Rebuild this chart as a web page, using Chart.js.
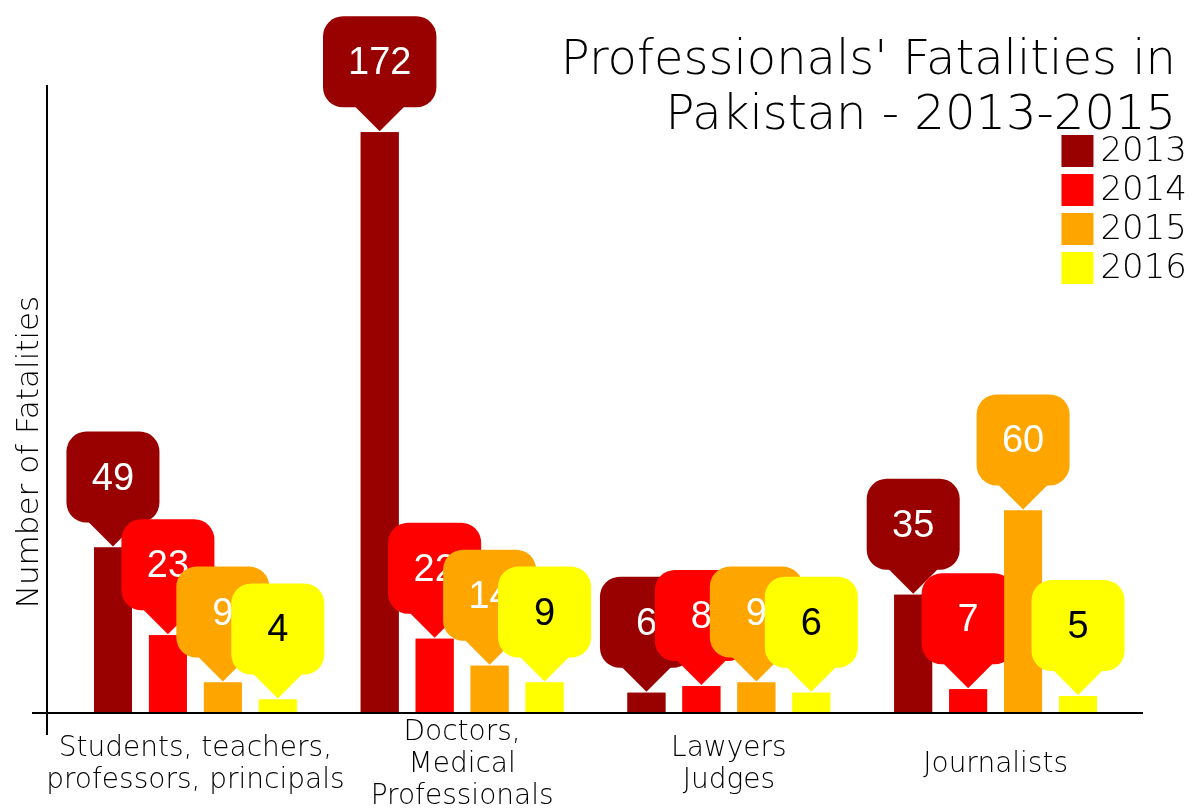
<!DOCTYPE html>
<html lang="en">
  <head>
    <meta charset="UTF-8" />
    <title>Professionals' Fatalities in Pakistan</title>
    <style>
      html, body { margin: 0; padding: 0; background: #fff; }
      .chartBox { width: 1195px; height: 809px; }
    </style>
  </head>
  <body>
    <div class="chartBox"><canvas id="myChart"></canvas></div>
    <script src="https://cdn.jsdelivr.net/npm/chart.js/dist/chart.umd.min.js"></script>
    <script>
      // data
      const categories = [
        ['Students, teachers,', 'professors, principals'],
        ['Doctors,', 'Medical', 'Professionals'],
        ['Lawyers', 'Judges'],
        ['Journalists']
      ];
      const years = ['2013', '2014', '2015', '2016'];
      const fatalities2013 = [49, 172, 6, 35];
      const fatalities2014 = [23, 22, 8, 7];
      const fatalities2015 = [9, 14, 9, 60];
      const fatalities2016 = [4, 9, 6, 5];
      const titleLines = ["Professionals' Fatalities in", 'Pakistan - 2013-2015'];
      const yTitle = 'Number of Fatalities';

      const colors = ['#990000', '#ff0000', '#ffa500', '#ffff00'];
      const textColors = ['#ffffff', '#ffffff', '#ffffff', '#000000'];
      const FONT = '"DejaVu Sans", sans-serif';
      const VALUE_FONT = '38px "Liberation Sans", Arial, sans-serif';

      const series = [fatalities2013, fatalities2014, fatalities2015, fatalities2016];

      // rounded box with a pointer, tip sits on the bar top
      function drawCallout(ctx, cx, tipY, text, fill, textColor) {
        ctx.font = VALUE_FONT;
        const w = Math.max(93, ctx.measureText(text).width + 50);
        const h = 91, r = 20, ph = 24;
        const bottom = tipY - ph;
        const top = bottom - h;
        ctx.fillStyle = fill;
        ctx.beginPath();
        ctx.roundRect(cx - w / 2, top, w, h, r);
        ctx.fill();
        ctx.beginPath();
        ctx.moveTo(cx - ph - 1, bottom - 1);
        ctx.lineTo(cx, tipY);
        ctx.lineTo(cx + ph + 1, bottom - 1);
        ctx.closePath();
        ctx.fill();
        ctx.fillStyle = textColor;
        ctx.textAlign = 'center';
        ctx.textBaseline = 'middle';
        ctx.fillText(text, cx, top + h / 2 + 2);
      }

      const calloutPlugin = {
        id: 'callouts',
        afterDatasetsDraw(chart) {
          const ctx = chart.ctx;
          ctx.save();
          // bar then its callout, one after another, so later ones overlap
          categories.forEach((c, i) => {
            chart.data.datasets.forEach((ds, d) => {
              const bar = chart.getDatasetMeta(d).data[i];
              bar.draw(ctx);
              drawCallout(ctx, bar.x, bar.y - 1, String(ds.data[i]), colors[d], textColors[d]);
            });
          });
          ctx.restore();
        },
        afterDraw(chart) {
          const { ctx, chartArea: a } = chart;
          ctx.save();

          // axis lines
          ctx.strokeStyle = '#000';
          ctx.lineWidth = 2;
          ctx.beginPath();
          ctx.moveTo(a.left - 30, a.bottom);
          ctx.lineTo(a.right + 14, a.bottom);
          ctx.moveTo(a.left - 15, a.top);
          ctx.lineTo(a.left - 15, a.bottom + 22);
          ctx.stroke();

          // title
          ctx.fillStyle = '#000';
          ctx.font = '300 48px ' + FONT;
          ctx.textAlign = 'right';
          ctx.textBaseline = 'alphabetic';
          ctx.fillText(titleLines[0], 1176, 74);
          ctx.fillText(titleLines[1], 1176, 129);

          // legend
          ctx.font = '300 34px ' + FONT;
          ctx.textAlign = 'left';
          ctx.textBaseline = 'middle';
          chart.data.datasets.forEach((ds, d) => {
            const rowY = 135 + d * 39;
            const tx = 1187 - ctx.measureText(ds.label).width;
            ctx.fillStyle = colors[d];
            ctx.fillRect(tx - 39, rowY, 32, 32);
            ctx.fillStyle = '#000';
            ctx.fillText(ds.label, tx, rowY + 17);
          });

          // y axis title
          ctx.translate(30, 452);
          ctx.rotate(-Math.PI / 2);
          ctx.font = '300 31px ' + FONT;
          ctx.textAlign = 'center';
          ctx.fillText(yTitle, 0, 0);
          ctx.restore();
        }
      };

      const data = {
        labels: categories,
        datasets: years.map((y, d) => ({
          label: y,
          data: series[d],
          backgroundColor: colors[d],
          borderWidth: 0,
          categoryPercentage: 0.824,
          barPercentage: 0.69
        }))
      };

      const config = {
        type: 'bar',
        data,
        options: {
          responsive: true,
          maintainAspectRatio: false,
          animation: false,
          layout: { padding: { left: 62, right: 66, top: 85, bottom: 0 } },
          plugins: {
            legend: { display: false },
            tooltip: { enabled: false },
            title: { display: false }
          },
          scales: {
            x: {
              grid: { display: false, drawTicks: false },
              border: { display: false },
              afterFit(scale) { scale.height = 96; },
              ticks: {
                color: '#000',
                padding: 20,
                maxRotation: 0,
                autoSkip: false,
                crossAlign: 'center',
                font: { family: FONT, size: 28, weight: '300', lineHeight: '32px' }
              }
            },
            y: {
              display: false,
              min: 0,
              max: 186
            }
          }
        },
        plugins: [calloutPlugin]
      };

      const myChart = new Chart(document.getElementById('myChart'), config);
    </script>
  </body>
</html>
